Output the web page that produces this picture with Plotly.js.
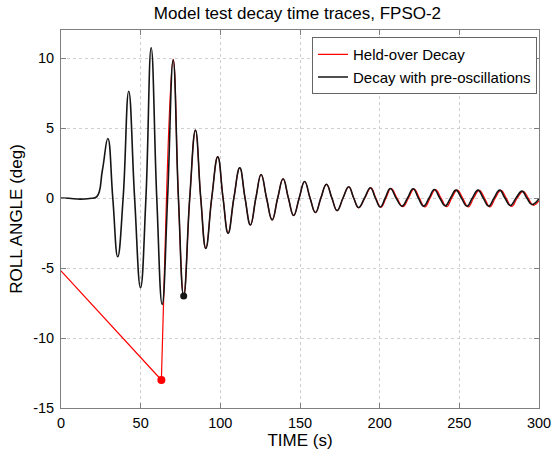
<!DOCTYPE html>
<html>
<head>
<meta charset="utf-8">
<script src="https://cdn.plot.ly/plotly-3.0.1.min.js"></script>
<style>
html,body{margin:0;padding:0;background:#fff;}
#chart{width:555px;height:450px;}
</style>
</head>
<body>
<div id="chart"></div>
<script>
// Held-over decay: straight ramp before release
const heldRampT = [0, 63, 66.2];
const heldRampY = [-5.2, -13, 0];
// Held-over decay: oscillation after release (extrema and zero crossings)
const heldT = [66.2, 70.4, 73.7, 77.0, 80.8, 84.4, 87.7, 90.9, 94.6, 98.4, 101.7, 104.9, 108.5, 112.2, 115.5, 118.9, 122.3, 125.6, 129.0, 132.5, 136.0, 139.4, 142.7, 146.0, 149.5, 152.9, 156.3, 159.7, 163.1, 166.6, 170.0, 173.3, 177.0, 180.6, 183.7, 186.8, 190.7, 194.5, 197.6, 200.8, 204.0, 207.2, 210.9, 214.6, 218.1, 221.6, 224.9, 228.3, 231.7, 235.0, 238.5, 242.0, 245.3, 248.7, 252.1, 255.6, 259.0, 262.5, 265.8, 269.2, 272.6, 276.1, 279.4, 282.8, 286.4, 290.1, 293.2, 296.4, 300];
const heldY = [0, 9.9, 0, -7.0, 0, 4.85, 0, -3.6, 0, 2.95, 0, -2.5, 0, 2.16, 0, -1.93, 0, 1.68, 0, -1.56, 0, 1.37, 0, -1.25, 0, 1.18, 0, -1.04, 0, 0.98, 0, -0.9, 0, 0.8, 0, -0.7, 0, 0.73, 0, -0.66, 0, 0.68, 0, -0.62, 0, 0.64, 0, -0.64, 0, 0.6, 0, -0.62, 0, 0.56, 0, -0.64, 0, 0.55, 0, -0.64, 0, 0.54, 0, -0.6, 0, 0.48, 0, -0.52, -0.2];
// Decay with pre-oscillations
const preT = [0, 5, 12, 18, 22.5, 26, 29.4, 32.5, 35.6, 39.0, 42.5, 46.2, 49.9, 53.3, 56.6, 60.1, 63.5, 66.9, 70.4, 73.7, 77.0, 80.8, 84.4, 87.7, 90.9, 94.6, 98.4, 101.7, 104.9, 108.5, 112.2, 115.5, 118.9, 122.3, 125.6, 129.0, 132.5, 136.0, 139.4, 142.7, 146.0, 149.5, 152.9, 156.3, 159.7, 163.1, 166.6, 170.0, 173.3, 177.0, 180.6, 183.7, 186.8, 190.5, 194.2, 197.3, 200.4, 203.5, 206.7, 210.3, 214.0, 217.5, 221.0, 224.3, 227.6, 231.0, 234.3, 237.7, 241.2, 244.5, 247.9, 251.3, 254.8, 258.2, 261.7, 265.0, 268.4, 271.8, 275.3, 278.6, 282.0, 285.6, 289.3, 292.4, 295.6, 300];
const preY = [0, -0.02, -0.08, -0.03, 0.1, 2.0, 4.25, 0, -4.2, 0, 7.63, 0, -6.4, 0, 10.73, 0, -7.6, 0, 9.85, 0, -7.0, 0, 4.85, 0, -3.6, 0, 2.94, 0, -2.52, 0, 2.16, 0, -1.93, 0, 1.68, 0, -1.56, 0, 1.37, 0, -1.25, 0, 1.18, 0, -1.04, 0, 0.98, 0, -0.9, 0, 0.8, 0, -0.68, 0, 0.73, 0, -0.64, 0, 0.68, 0, -0.58, 0, 0.66, 0, -0.58, 0, 0.61, 0, -0.56, 0, 0.56, 0, -0.58, 0, 0.56, 0, -0.58, 0, 0.56, 0, -0.54, 0, 0.49, 0, -0.46, -0.05];
// Marked points
const heldMarkT = [63];
const heldMarkY = [-13];
const preMarkT = [77];
const preMarkY = [-7];

const xTicks = [0, 50, 100, 150, 200, 250, 300];
const yTicks = [-15, -10, -5, 0, 5, 10];

const RED = '#ff0000';
const BLK = '#151515';
const FONT = 'Liberation Sans, Arial, sans-serif';

const traces = [
  {x: heldRampT, y: heldRampY, mode: 'lines', name: 'Held-over Decay', legendgroup: 'h',
   line: {color: RED, width: 1.2, shape: 'linear'}},
  {x: heldT, y: heldY, mode: 'lines', name: 'Held-over Decay', legendgroup: 'h', showlegend: false,
   line: {color: RED, width: 1.2, shape: 'spline', smoothing: 1.3}},
  {x: preT, y: preY, mode: 'lines', name: 'Decay with pre-oscillations',
   line: {color: BLK, width: 1.6, shape: 'spline', smoothing: 1.3}},
  {x: heldMarkT, y: heldMarkY, mode: 'markers', showlegend: false, hoverinfo: 'skip',
   marker: {color: RED, size: 8}},
  {x: preMarkT, y: preMarkY, mode: 'markers', showlegend: false, hoverinfo: 'skip',
   marker: {color: BLK, size: 7}}
];

const axisCommon = {
  showline: true, mirror: 'ticks', linecolor: '#7f7f7f', linewidth: 1,
  ticks: 'inside', ticklen: 5, tickcolor: '#7f7f7f', tickwidth: 1,
  showgrid: true, gridcolor: '#cfcfcf', griddash: 'dot', gridwidth: 1,
  zeroline: false, tickfont: {family: FONT, size: 14.5, color: '#000'}
};

const layout = {
  width: 555, height: 450,
  margin: {l: 61, r: 16, t: 30, b: 42},
  paper_bgcolor: '#fff', plot_bgcolor: '#fff',
  font: {family: FONT, color: '#000'},
  title: {text: 'Model test decay time traces, FPSO-2', font: {family: FONT, size: 17, color: '#000'},
          x: 0.536, xref: 'container', xanchor: 'center', y: 0.971, yref: 'container', yanchor: 'middle'},
  xaxis: Object.assign({}, axisCommon, {
    range: [0, 300], tickvals: xTicks, ticktext: xTicks.map(String),
    title: {text: 'TIME (s)', font: {family: FONT, size: 17, color: '#000'}, standoff: 1},
    ticklabelstandoff: 2
  }),
  yaxis: Object.assign({}, axisCommon, {
    range: [-15, 12], tickvals: yTicks, ticktext: yTicks.map(String),
    title: {text: 'ROLL ANGLE (deg)', font: {family: FONT, size: 17, color: '#000'}, standoff: 6},
    ticklabelstandoff: 3
  }),
  legend: {x: 0.9958, xanchor: 'right', y: 0.981, yanchor: 'top',
           bgcolor: '#fff', bordercolor: '#666', borderwidth: 1,
           font: {family: FONT, size: 15, color: '#000'}, tracegroupgap: 0},
  showlegend: true
};

Plotly.newPlot('chart', traces, layout, {displayModeBar: false, staticPlot: true});
</script>
</body>
</html>
